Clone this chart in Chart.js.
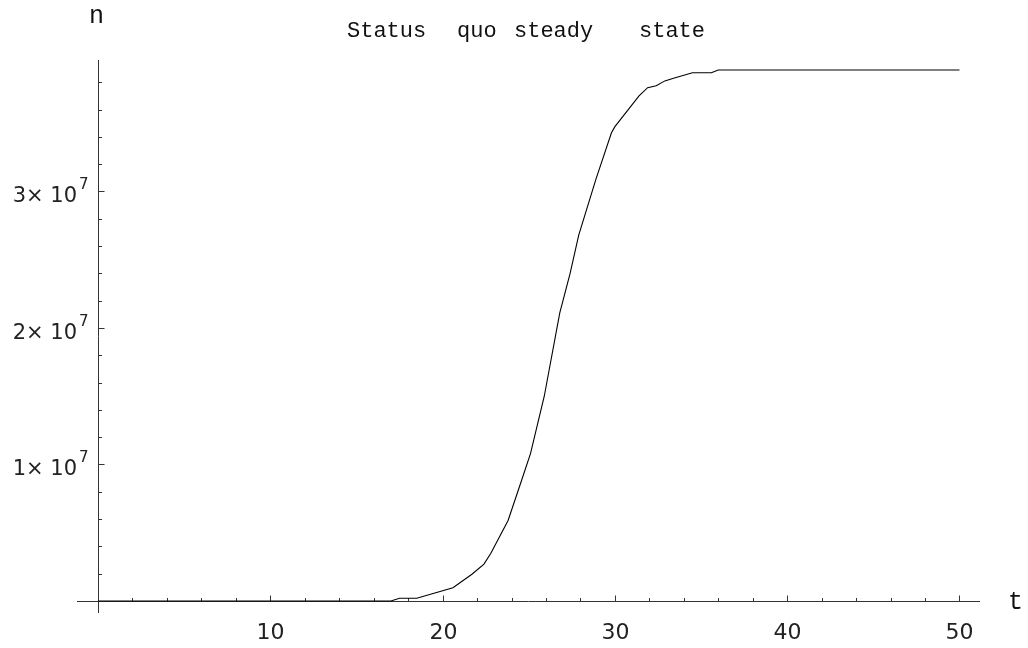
<!DOCTYPE html>
<html>
<head>
<meta charset="utf-8">
<title>Status quo steady state</title>
<script src="https://cdn.jsdelivr.net/npm/chart.js@4.4.1/dist/chart.umd.min.js"></script>
<style>
  html, body { margin: 0; padding: 0; background: #fff; }
  #wrap { width: 1028px; height: 648px; position: relative; }
</style>
</head>
<body>
<div id="wrap"><canvas id="chart"></canvas></div>
<script>
// time values
const tValues = [0, 17.0, 17.5, 18.5, 20.6, 21.7, 22.4, 22.8, 23.8, 24.6, 25.1, 25.9,
  26.8, 27.4, 27.9, 28.9, 29.8, 30.0, 31.4, 31.9, 32.4, 32.9, 33.4, 34.5, 35.6, 36.0, 50];
// n, in millions
const nMillions = [0, 0, 0.2, 0.2, 0.97, 1.96, 2.7, 3.5, 5.9, 8.9, 10.8, 15.0,
  21.1, 24.0, 26.8, 30.9, 34.3, 34.75, 37.0, 37.6, 37.75, 38.1, 38.3, 38.7, 38.7, 38.9, 38.9];

const xMajorTicks = [10, 20, 30, 40, 50];
const xMinorTicks = [2, 4, 6, 8, 12, 14, 16, 18, 22, 24, 26, 28, 32, 34, 36, 38, 42, 44, 46, 48];
const yMajorTicks = [1e7, 2e7, 3e7];
const yMajorMantissa = ["1", "2", "3"];
const yMinorTicks = [2e6, 4e6, 6e6, 8e6, 12e6, 14e6, 16e6, 18e6, 22e6, 24e6, 26e6, 28e6,
  32e6, 34e6, 36e6, 38e6];

// the title words are spaced unevenly in the original
const titleWords = ["Status", "quo", "steady", "state"];
const titleWordX = [347, 457, 514, 639];
const xAxisLabel = "t";
const yAxisLabel = "n";

const points = tValues.map((t, i) => ({ x: t, y: nMillions[i] * 1e6 }));

// Mathematica-style axes crossing at the origin, ticks pointing inward
const originAxes = {
  id: "originAxes",
  beforeDatasetsDraw(chart) {
    const { ctx, chartArea: a } = chart;
    const xs = chart.scales.x, ys = chart.scales.y;
    const px = (v) => Math.round(xs.getPixelForValue(v)) + 0.5;
    const py = (v) => Math.round(ys.getPixelForValue(v)) + 0.5;
    const x0 = px(0), y0 = py(0);

    ctx.save();
    ctx.strokeStyle = "#333";
    ctx.lineWidth = 1;
    ctx.beginPath();
    ctx.moveTo(a.left, y0); ctx.lineTo(a.right, y0);
    ctx.moveTo(x0, a.top); ctx.lineTo(x0, a.bottom);
    for (const v of xMajorTicks) { ctx.moveTo(px(v), y0); ctx.lineTo(px(v), y0 - 6); }
    for (const v of xMinorTicks) { ctx.moveTo(px(v), y0); ctx.lineTo(px(v), y0 - 3.5); }
    for (const v of yMajorTicks) { ctx.moveTo(x0, py(v)); ctx.lineTo(x0 + 6, py(v)); }
    for (const v of yMinorTicks) { ctx.moveTo(x0, py(v)); ctx.lineTo(x0 + 3.5, py(v)); }
    ctx.stroke();

    ctx.fillStyle = "#222";
    ctx.font = "22px 'DejaVu Sans'";
    ctx.textAlign = "center";
    ctx.textBaseline = "alphabetic";
    for (const v of xMajorTicks) ctx.fillText(String(v), px(v), y0 + 37);

    yMajorTicks.forEach((v, i) => {
      const yy = py(v);
      ctx.font = "21px 'DejaVu Sans'";
      ctx.textAlign = "right";
      ctx.fillText(yMajorMantissa[i] + "\u00d7 10", 77, yy + 10.5);
      ctx.font = "15px 'DejaVu Sans'";
      ctx.textAlign = "left";
      ctx.fillText("7", 79, yy - 3);
    });

    ctx.fillStyle = "#111";
    ctx.font = "22px 'Liberation Mono'";
    ctx.textAlign = "left";
    titleWords.forEach((w, i) => ctx.fillText(w, titleWordX[i], 37));
    ctx.font = "25px 'Liberation Mono'";
    ctx.fillText(yAxisLabel, 89, 23);
    ctx.fillText(xAxisLabel, 1008, 609);
    ctx.restore();
  },
};

new Chart(document.getElementById("chart"), {
  type: "line",
  data: {
    datasets: [{
      data: points,
      borderColor: "#000",
      borderWidth: 1.1,
      pointRadius: 0,
      tension: 0,
      fill: false,
    }],
  },
  options: {
    responsive: true,
    maintainAspectRatio: false,
    animation: false,
    layout: { padding: { left: 77, right: 48, top: 60, bottom: 35 } },
    plugins: { legend: { display: false }, title: { display: false }, tooltip: { enabled: false } },
    scales: {
      x: { type: "linear", min: -1.22, max: 51.19, display: false },
      y: { type: "linear", min: -0.879e6, max: 39.63e6, display: false },
    },
  },
  plugins: [originAxes],
});
</script>
</body>
</html>
